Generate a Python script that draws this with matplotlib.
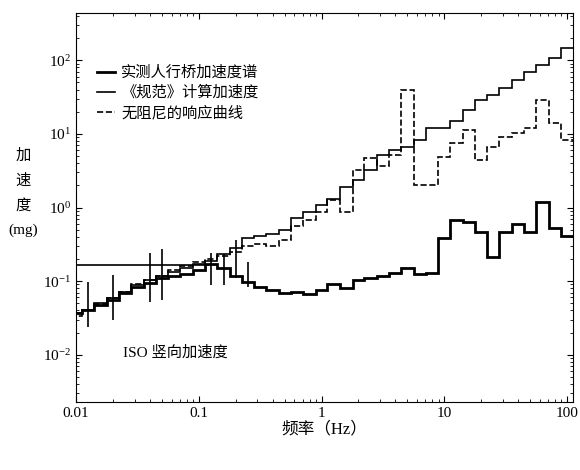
import numpy as np
import matplotlib.pyplot as plt

plt.rcParams['font.family'] = ['Liberation Serif', 'Noto Sans CJK SC']
plt.rcParams['mathtext.fontset'] = 'stix'

# 1/3 倍频程中心频率 (Hz)
freq = [0.01, 0.0125, 0.016, 0.02, 0.025, 0.0315, 0.04, 0.05, 0.063, 0.08,
        0.1, 0.125, 0.16, 0.2, 0.25, 0.315, 0.4, 0.5, 0.63, 0.8,
        1, 1.25, 1.6, 2, 2.5, 3.15, 4, 5, 6.3, 8,
        10, 12.5, 16, 20, 25, 31.5, 40, 50, 63, 80, 100]

measured = [0.037, 0.041, 0.048, 0.056, 0.069, 0.083, 0.095, 0.11, 0.117, 0.126,
            0.142, 0.17, 0.15, 0.117, 0.098, 0.083, 0.076, 0.069, 0.071, 0.067,
            0.076, 0.091, 0.081, 0.105, 0.11, 0.117, 0.129, 0.15, 0.126, 0.129,
            0.39, 0.68, 0.63, 0.46, 0.21, 0.46, 0.6, 0.46, 1.19, 0.52, 0.41]

code_curve = [0.037, 0.041, 0.05, 0.059, 0.071, 0.089, 0.104, 0.117, 0.134, 0.15,
              0.17, 0.19, 0.23, 0.28, 0.39, 0.41, 0.44, 0.49, 0.72, 0.87,
              1.08, 1.3, 1.9, 2.36, 3.2, 5.2, 6.0, 6.6, 8.2, 12,
              12, 15, 21, 29, 34, 42, 54, 69, 85, 106, 145]

undamped = [0.034, 0.041, 0.049, 0.059, 0.071, 0.091, 0.104, 0.117, 0.142, 0.16,
            0.18, 0.2, 0.22, 0.25, 0.3, 0.32, 0.3, 0.36, 0.56, 0.68,
            0.87, 1.26, 0.87, 3.2, 4.7, 3.7, 5.2, 40, 2.0, 2.0,
            4.8, 7.5, 11.3, 4.4, 6.6, 9.0, 10.2, 12, 29, 14, 8.2]

# 误差棒 (实测)
err_idx = [1, 3, 6, 7, 11, 12, 13, 14]
err_low = [0.024, 0.030, 0.052, 0.056, 0.089, 0.089, 0.11, 0.083]
err_high = [0.098, 0.122, 0.24, 0.27, 0.24, 0.23, 0.36, 0.18]

iso_f = [0.01, 0.12]
iso_v = [0.166, 0.166]

labels = ['实测人行桥加速度谱', '《规范》计算加速度', '无阻尼的响应曲线']

f = np.array(freq)
mid = np.sqrt(f[1:] * f[:-1])
edges = np.concatenate([[f[0] ** 2 / mid[0]], mid, [f[-1] ** 2 / mid[-1]]])

fig = plt.figure(figsize=(5.8, 4.7), dpi=100)
ax = fig.add_axes([0.131, 0.145, 0.857, 0.827])

ax.stairs(measured, edges, baseline=None, color='black', lw=2.0, label=labels[0])
ax.stairs(code_curve, edges, baseline=None, color='black', lw=1.2, label=labels[1])
ax.stairs(undamped, edges, baseline=None, color='black', lw=1.2, ls='--',
          label=labels[2])

ef = [freq[i] for i in err_idx]
ev = [measured[i] for i in err_idx]
yerr = [np.array(ev) - np.array(err_low), np.array(err_high) - np.array(ev)]
ax.errorbar(ef, ev, yerr=yerr, fmt='none', ecolor='black', elinewidth=1.2, capsize=0)

ax.plot(iso_f, iso_v, color='black', lw=1.2)

ax.set_xscale('log')
ax.set_yscale('log')
ax.set_xlim(0.01, edges[-1])
ax.set_ylim(10 ** -2.64, 10 ** 2.64)
ax.set_xticks([0.01, 0.1, 1, 10, 100])
ax.set_xticklabels(['0.01', '0.1', '1', '10', '100'])
ax.set_yticks([0.01, 0.1, 1, 10, 100])
ax.tick_params(which='both', direction='in', top=True, right=True, labelsize=11)
ax.tick_params(which='major', length=4)
ax.tick_params(which='minor', length=2)

ax.set_xlabel('频率（Hz）', fontsize=12, labelpad=1)
fig.text(0.04, 0.59, '加\n速\n度\n(mg)', fontsize=11, ha='center', va='center',
         linespacing=2.0)

ax.text(0.095, 0.126, 'ISO 竖向加速度', transform=ax.transAxes, fontsize=11,
        va='center')

ax.legend(loc='upper left', bbox_to_anchor=(0.03, 0.88), frameon=False,
          fontsize=11, handlelength=1.2, handletextpad=0.4, labelspacing=0.35,
          borderaxespad=0)

fig.savefig('out.png', dpi=100)
